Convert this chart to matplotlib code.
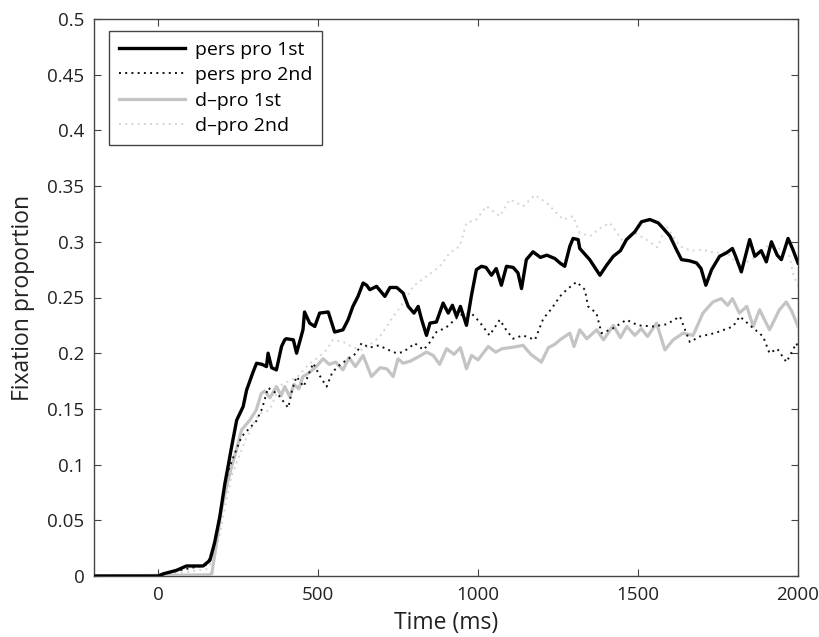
import matplotlib
matplotlib.use("Agg")
import matplotlib.pyplot as plt

plt.rcParams['font.family'] = ['Open Sans', 'DejaVu Sans']

# ---- data ----
pers1_t = [-200, 0, 17, 57, 89, 141, 162, 177, 193, 209, 220, 230, 246, 266, 277, 297, 308, 325, 339, 344,
           355, 370, 386, 396, 401, 423, 433, 453, 458, 474, 490, 505, 532, 552, 578, 594, 609, 625, 641, 652,
           662, 683, 709, 725, 746, 766, 782, 800, 813, 823, 839, 850, 870, 891, 907, 920, 933, 945, 964, 979,
           995, 1011, 1025, 1042, 1057, 1073, 1089, 1110, 1125, 1136, 1151, 1172, 1195, 1215, 1240, 1256, 1271, 1287, 1297, 1313,
           1318, 1349, 1381, 1402, 1423, 1445, 1464, 1490, 1511, 1537, 1563, 1579, 1600, 1620, 1636, 1660, 1683, 1697, 1712, 1730,
           1755, 1776, 1795, 1805, 1823, 1849, 1865, 1885, 1901, 1917, 1935, 1948, 1969, 1984, 2000]
pers1_v = [0, 0, 0.002, 0.005, 0.009, 0.009, 0.014, 0.03, 0.053, 0.083, 0.1, 0.116, 0.14, 0.152, 0.167, 0.183, 0.191, 0.19, 0.188, 0.2,
           0.187, 0.185, 0.206, 0.212, 0.213, 0.212, 0.2, 0.221, 0.237, 0.227, 0.224, 0.236, 0.237, 0.219, 0.221, 0.23, 0.242, 0.251, 0.263, 0.261,
           0.257, 0.26, 0.251, 0.259, 0.259, 0.254, 0.242, 0.236, 0.242, 0.231, 0.216, 0.227, 0.228, 0.245, 0.236, 0.243, 0.233, 0.242, 0.225, 0.251,
           0.275, 0.278, 0.277, 0.27, 0.276, 0.261, 0.278, 0.277, 0.272, 0.258, 0.284, 0.291, 0.286, 0.288, 0.285, 0.281, 0.278, 0.296, 0.303, 0.302,
           0.294, 0.284, 0.27, 0.279, 0.287, 0.292, 0.302, 0.309, 0.318, 0.32, 0.317, 0.312, 0.305, 0.293, 0.284, 0.283, 0.281, 0.276, 0.261, 0.275,
           0.287, 0.29, 0.294, 0.287, 0.273, 0.302, 0.287, 0.292, 0.282, 0.3, 0.288, 0.284, 0.303, 0.293, 0.281]

pers2_t = [-200, 0, 50, 100, 150, 170, 190, 205, 220, 240, 261, 287, 307, 325, 344, 375, 407, 420, 433, 455,
           485, 505, 527, 545, 570, 600, 620, 636, 660, 690, 720, 745, 766, 790, 802, 830, 850, 870, 900, 943,
           979, 1005, 1036, 1068, 1090, 1110, 1140, 1178, 1204, 1230, 1256, 1277, 1308, 1334, 1344, 1370, 1386, 1420, 1464, 1500,
           1547, 1590, 1631, 1662, 1693, 1740, 1797, 1818, 1850, 1891, 1911, 1935, 1964, 1995, 2000]
pers2_v = [0, 0, 0.004, 0.007, 0.01, 0.02, 0.05, 0.075, 0.095, 0.11, 0.125, 0.133, 0.139, 0.15, 0.169, 0.163, 0.151, 0.168, 0.179, 0.17,
           0.191, 0.18, 0.17, 0.183, 0.19, 0.196, 0.2, 0.209, 0.205, 0.207, 0.203, 0.2, 0.201, 0.206, 0.209, 0.203, 0.21, 0.219, 0.223, 0.234,
           0.236, 0.228, 0.216, 0.23, 0.22, 0.213, 0.216, 0.212, 0.231, 0.24, 0.251, 0.257, 0.264, 0.257, 0.242, 0.236, 0.218, 0.222, 0.23, 0.225,
           0.224, 0.226, 0.233, 0.21, 0.215, 0.218, 0.224, 0.233, 0.225, 0.215, 0.2, 0.204, 0.192, 0.209, 0.205]

dpro1_t = [-200, 160, 168, 183, 198, 214, 230, 245, 261, 287, 307, 323, 334, 350, 370, 385, 396, 412, 425, 440,
           453, 470, 495, 516, 535, 555, 578, 597, 617, 641, 667, 694, 715, 735, 750, 766, 790, 815, 839, 860,
           880, 902, 925, 945, 964, 980, 1000, 1032, 1055, 1075, 1100, 1141, 1165, 1198, 1220, 1240, 1256, 1287, 1300, 1318,
           1340, 1371, 1392, 1423, 1445, 1465, 1490, 1510, 1530, 1558, 1584, 1610, 1641, 1672, 1703, 1734, 1760, 1780, 1795, 1817,
           1840, 1860, 1880, 1911, 1942, 1963, 1980, 2000]
dpro1_v = [0, 0.001, 0.002, 0.03, 0.059, 0.08, 0.098, 0.113, 0.131, 0.14, 0.149, 0.164, 0.166, 0.16, 0.17, 0.162, 0.17, 0.161, 0.172, 0.168,
           0.179, 0.182, 0.188, 0.195, 0.19, 0.192, 0.185, 0.196, 0.188, 0.198, 0.179, 0.187, 0.186, 0.179, 0.195, 0.191, 0.193, 0.197, 0.201, 0.198,
           0.19, 0.204, 0.199, 0.205, 0.186, 0.198, 0.194, 0.206, 0.201, 0.204, 0.205, 0.207, 0.199, 0.192, 0.205, 0.208, 0.212, 0.218, 0.206, 0.221,
           0.213, 0.221, 0.212, 0.225, 0.214, 0.224, 0.216, 0.222, 0.215, 0.227, 0.203, 0.212, 0.218, 0.216, 0.236, 0.246, 0.249, 0.243, 0.249, 0.236,
           0.242, 0.224, 0.239, 0.221, 0.239, 0.246, 0.238, 0.224]

dpro2_t = [-200, 0, 50, 100, 150, 175, 195, 215, 230, 245, 270, 300, 319, 349, 381, 410, 440, 470, 500, 527,
           547, 580, 610, 641, 694, 735, 766, 797, 839, 881, 912, 943, 964, 995, 1026, 1068, 1099, 1141, 1178, 1214,
           1245, 1266, 1297, 1318, 1350, 1381, 1412, 1454, 1490, 1526, 1560, 1589, 1610, 1631, 1665, 1703, 1740, 1776, 1818, 1860,
           1901, 1940, 1974, 1984, 2000]
dpro2_v = [0, 0, 0.002, 0.004, 0.006, 0.015, 0.04, 0.07, 0.09, 0.101, 0.12, 0.138, 0.146, 0.149, 0.171, 0.175, 0.18, 0.19, 0.196, 0.203,
           0.212, 0.21, 0.205, 0.203, 0.215, 0.233, 0.245, 0.26, 0.269, 0.278, 0.29, 0.296, 0.317, 0.32, 0.332, 0.323, 0.338, 0.332, 0.342, 0.335,
           0.326, 0.32, 0.323, 0.308, 0.305, 0.312, 0.317, 0.3, 0.308, 0.302, 0.295, 0.314, 0.305, 0.296, 0.292, 0.293, 0.29, 0.291, 0.278, 0.285,
           0.296, 0.294, 0.287, 0.272, 0.26]

labels = ['pers pro 1st', 'pers pro 2nd', 'd\u2013pro 1st', 'd\u2013pro 2nd']
xticks = [0, 500, 1000, 1500, 2000]
yticks = [0, 0.05, 0.1, 0.15, 0.2, 0.25, 0.3, 0.35, 0.4, 0.45, 0.5]
ytick_labels = ['0', '0.05', '0.1', '0.15', '0.2', '0.25', '0.3', '0.35', '0.4', '0.45', '0.5']

fig = plt.figure(figsize=(8.2, 6.37), dpi=100)
ax = fig.add_axes([94/820, 1 - 576/637, (798-94)/820, (576-19)/637])

l4, = ax.plot(dpro2_t, dpro2_v, color='#d4d4d4', lw=1.4, ls=(0, (1, 2.2)), zorder=2)
l3, = ax.plot(dpro1_t, dpro1_v, color='#c4c4c4', lw=2.3, zorder=3)
l2, = ax.plot(pers2_t, pers2_v, color='#111111', lw=1.4, ls=(0, (1, 2.2)), zorder=4)
l1, = ax.plot(pers1_t, pers1_v, color='#000000', lw=2.4, zorder=5)

ax.set_xlim(-200, 2000)
ax.set_ylim(0, 0.5)
ax.set_xticks(xticks)
ax.set_yticks(yticks)
ax.set_yticklabels(ytick_labels)
ax.tick_params(direction='in', length=5, width=0.8, color='#444444', labelsize=13.5,
               top=True, right=True, pad=7, labelcolor='#222222')
for s in ax.spines.values():
    s.set_color('#444444')
    s.set_linewidth(1.0)

ax.set_xlabel('Time (ms)', fontsize=16.5, color='#222222', labelpad=5)
ax.set_ylabel('Fixation proportion', fontsize=16.5, color='#222222', labelpad=9)

leg = ax.legend([l1, l2, l3, l4], labels, loc='upper left', fontsize=14,
                frameon=True, fancybox=False, handlelength=3.4, handletextpad=0.5,
                borderpad=0.5, labelspacing=0.38, borderaxespad=0.0,
                bbox_to_anchor=(15/704, 1 - 12/557))
leg.get_frame().set_edgecolor('#444444')
leg.get_frame().set_linewidth(1.0)
leg.get_frame().set_alpha(1)

fig.savefig('out.png', dpi=100)
